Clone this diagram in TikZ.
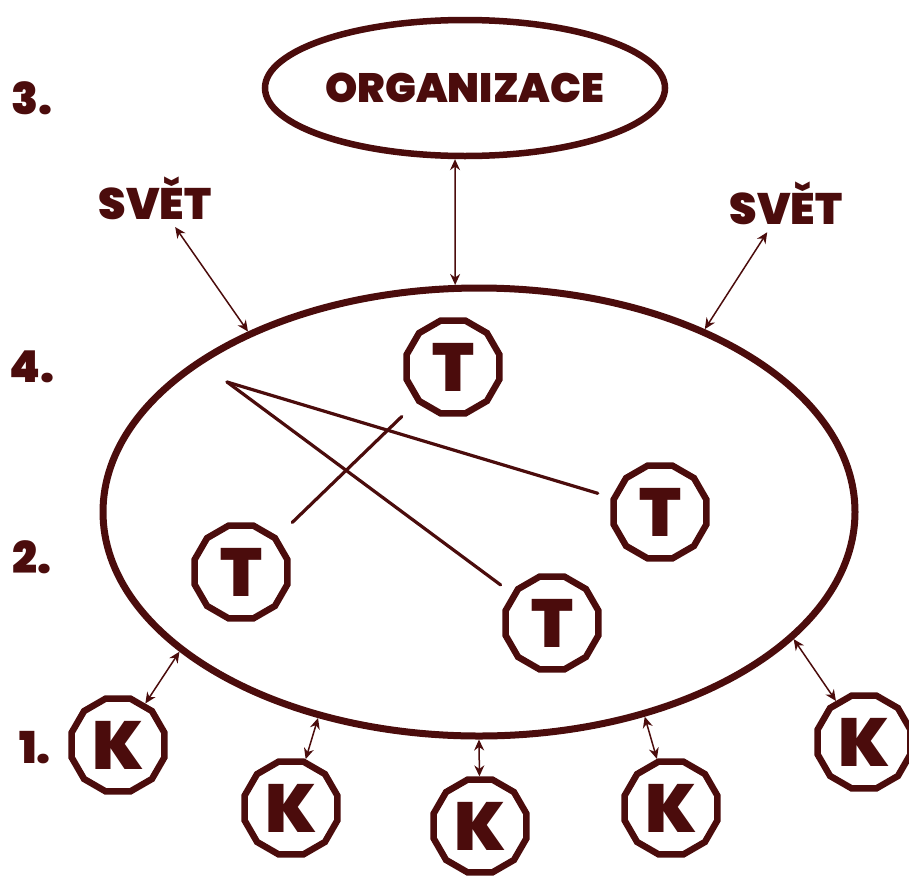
\documentclass[tikz,border=0pt]{standalone}
\usepackage{fontspec}
\usetikzlibrary{shapes.geometric,arrows.meta}
\newfontfamily\heavy{Poppins Black}
\definecolor{ink}{RGB}{75,12,12}
\begin{document}
\begin{tikzpicture}[x=1pt,y=-1pt,
  every node/.style={text=ink, font=\heavy},
  label/.style={font=\heavy\fontsize{44}{44}\selectfont, inner sep=0pt},
  member/.style={draw=ink, line width=6.5pt, shape=regular polygon,
    regular polygon sides=12, minimum size=96pt, inner sep=0pt,
    font=\heavy\fontsize{68}{68}\selectfont},
  link/.style={draw=ink, line width=1.5pt,
    {Stealth[length=11pt,width=10pt]}-{Stealth[length=11pt,width=10pt]}},
  tie/.style={draw=ink, line width=3.2pt, line cap=round}]
\useasboundingbox (0,0) rectangle (909,881);

% level labels
\node[label] (l3) at (32,98) {3.};
\node[label] (l4) at (32,367) {4.};
\node[label] (l2) at (32,557) {2.};
\node[label] (l1) at (35,748) {1.};

% organisation and the surrounding world
\node[draw=ink, line width=6.5pt, ellipse, minimum width=400pt, minimum height=136pt,
      inner sep=0pt, font=\heavy\fontsize{41}{41}\selectfont] (org) at (465,88) {ORGANIZACE};
\node[label] (svetL) at (155,198) {SVĚT};
\node[label] (svetR) at (786,203) {SVĚT};

% the team
\node[draw=ink, line width=7pt, ellipse, minimum width=752pt, minimum height=448pt,
      inner sep=0pt] (big) at (479,512) {};

\node[member] (t1) at (453,367) {T};
\node[member] (t2) at (660,512) {T};
\node[member] (t3) at (241,572) {T};
\node[member] (t4) at (552,623) {T};

% customers
\node[member] (k1) at (118,745) {K};
\node[member] (k2) at (291,808) {K};
\node[member] (k3) at (480,826) {K};
\node[member] (k4) at (671,808) {K};
\node[member] (k5) at (864,742) {K};

% ties inside the team
\coordinate (hub) at (227,382);
\draw[tie, shorten >=14pt] (hub) -- (t2);
\draw[tie, shorten >=14pt] (hub) -- (t4);
\draw[tie, shorten <=20pt, shorten >=20pt] (t1) -- (t3);

% exchanges across the boundary
\draw[link] (org.262) -- (big.96);
\draw[link, shorten <=9pt] (svetL) -- (big.142);
\draw[link, shorten <=9pt] (svetR) -- (big.39);
\draw[link] (k1) -- (big.205);
\draw[link] (k2) -- (big.232);
\draw[link] (k3) -- (big.270);
\draw[link] (k4) -- (big.309);
\draw[link] (k5) -- (big.338);
\end{tikzpicture}
\end{document}
